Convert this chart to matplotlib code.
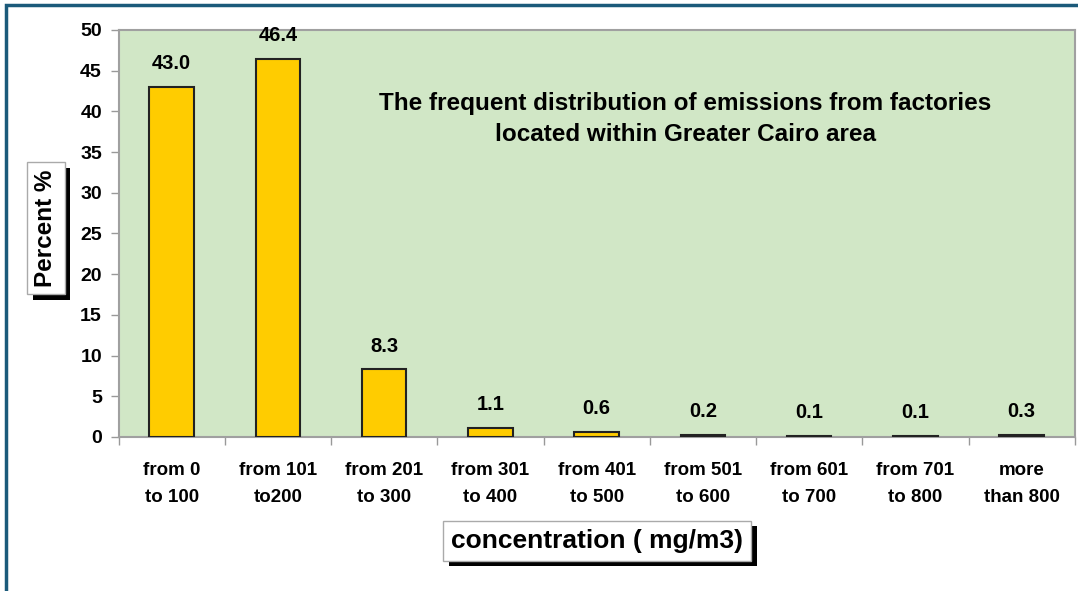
import matplotlib.pyplot as plt
import matplotlib.patheffects as pe
from matplotlib.patches import Rectangle
from matplotlib.ticker import MultipleLocator, FixedLocator
import numpy as np

plt.rcParams['font.family'] = ['Liberation Sans', 'DejaVu Sans']
plt.rcParams['font.weight'] = 'bold'

categories = ['from 0\nto 100', 'from 101\nto200', 'from 201\nto 300',
              'from 301\nto 400', 'from 401\nto 500', 'from 501\nto 600',
              'from 601\nto 700', 'from 701\nto 800', 'more\nthan 800']
percent = [43.0, 46.4, 8.3, 1.1, 0.6, 0.2, 0.1, 0.1, 0.3]

fig = plt.figure(figsize=(10.78, 5.91), dpi=100)
ax = fig.add_axes([0.110, 0.2606, 0.887, 0.6887])
ax.set_facecolor('#d1e7c6')

x = np.arange(len(categories))
bars = ax.bar(x, percent, width=0.42, color='#ffcc00', edgecolor='#222222',
              linewidth=1.5, zorder=3)
for xi, v in zip(x, percent):
    ax.annotate(f'{v:.1f}', (xi, v), xytext=(0, 10), textcoords='offset points',
                ha='center', va='bottom', fontsize=14.5, fontweight='bold')

ax.set_xlim(-0.5, len(categories) - 0.5)
ax.set_ylim(0, 50)
ax.yaxis.set_major_locator(MultipleLocator(5))
ax.set_xticks(x)
ax.set_xticklabels(categories, fontsize=13.5, fontweight='bold', linespacing=1.8)
ax.xaxis.set_minor_locator(FixedLocator(np.arange(-0.5, len(categories), 1)))
ax.tick_params(axis='x', which='major', length=0, pad=18)
ax.tick_params(axis='x', which='minor', length=6, color='#999999', width=1)
ax.tick_params(axis='y', length=6, color='#999999', width=1, labelsize=14, pad=6)
for lbl in ax.get_yticklabels():
    lbl.set_fontweight('bold')
for s in ax.spines.values():
    s.set_color('#a0a0a0')
    s.set_linewidth(1.5)

ax.text(0.593, 0.781, 'The frequent distribution of emissions from factories\nlocated within Greater Cairo area',
        transform=ax.transAxes, ha='center', va='center', fontsize=17.5,
        fontweight='bold', linespacing=1.45)

# boxed axis titles with drop shadow
shadow = [pe.withSimplePatchShadow(offset=(4, -4), shadow_rgbFace='black', alpha=1.0)]
yl = fig.text(0.0425, 0.614, 'Percent %', rotation=90, ha='center', va='center',
              fontsize=17.5, fontweight='bold',
              bbox=dict(boxstyle='square,pad=0.3', fc='white', ec='#aaaaaa', lw=1))
yl.get_bbox_patch().set_path_effects(shadow)
xl = fig.text(0.554, 0.085, 'concentration ( mg/m3)', ha='center', va='center',
              fontsize=19, fontweight='bold',
              bbox=dict(boxstyle='square,pad=0.3', fc='white', ec='#aaaaaa', lw=1))
xl.get_bbox_patch().set_path_effects(shadow)

# frame around the figure
fig.patches.append(Rectangle((0.0055, -0.2), 1.2, 1.192, transform=fig.transFigure,
                             fill=False, ec='#1b5a7a', lw=2.5))

fig.savefig('out.png', dpi=100)
